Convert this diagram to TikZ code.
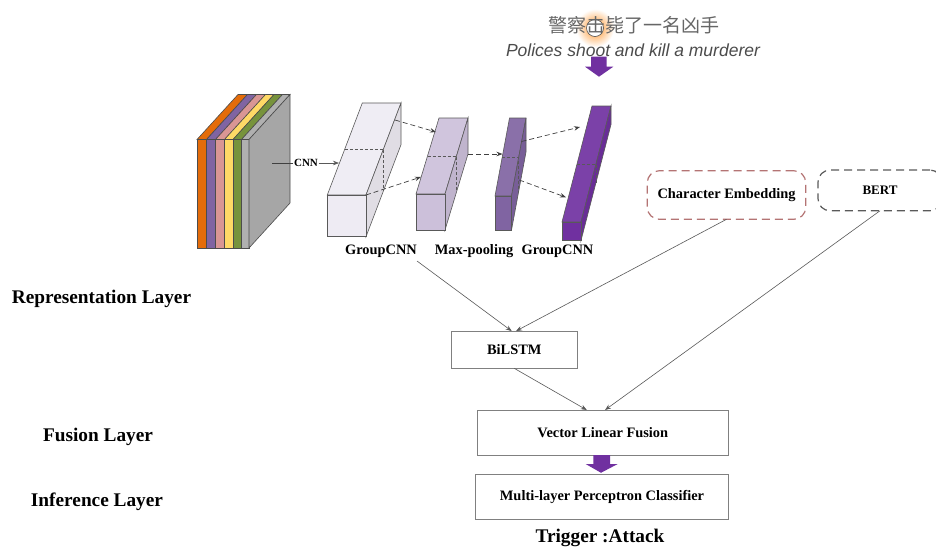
\documentclass[tikz,border=0pt]{standalone}
\usepackage{fontspec}
\setmainfont{Liberation Serif}
\newfontfamily\cjkfont{Noto Sans CJK SC}
\newfontfamily\engfont{Liberation Sans}
\usetikzlibrary{arrows.meta,calc}
\newcommand{\fsz}[1]{\fontsize{#1}{#1}\selectfont}
\definecolor{cA}{HTML}{EEEBF3}
\definecolor{cB}{HTML}{CCC0DA}
\definecolor{cC}{HTML}{8064A2}
\definecolor{cD}{HTML}{7030A0}
\definecolor{lorange}{HTML}{E46C0A}
\definecolor{lpurple}{HTML}{8064A2}
\definecolor{lpink}{HTML}{D99694}
\definecolor{lyellow}{HTML}{FFD966}
\definecolor{lgreen}{HTML}{77933C}
\definecolor{lgray}{HTML}{B0B0B0}
\definecolor{sidegray}{HTML}{A6A6A6}
\definecolor{cedash}{HTML}{B47474}
\definecolor{bertdash}{HTML}{5A5A5A}
\definecolor{edgegray}{HTML}{808080}
\definecolor{arrowpurple}{HTML}{7030A0}
\newcommand{\mycuboid}[7]{%
  \filldraw[boxedge, fill=#7!92!white] (#1,#2) -- ++(#3,0) -- ++(#5,#6) -- ++(-#3,0) -- cycle;
  \filldraw[boxedge, fill=#7!94!black] ({#1+#3},#2) -- ++(0,#4) -- ++(#5,#6) -- ++(0,-#4) -- cycle;
  \filldraw[boxedge, fill=#7] (#1,#2) rectangle ++(#3,#4);
  \draw[boxedge, dash pattern=on 3pt off 2pt] ({#1+#5/2},{#2+#6/2}) -- ++(#3,0) -- ++(0,#4);
}
\tikzset{
  boxedge/.style={draw=black!65, line width=0.6pt},
  stackedge/.style={draw=black!70, line width=0.6pt},
  dasharrow/.style={draw=black!75, line width=0.7pt, dash pattern=on 5pt off 3pt, -{Stealth[length=6pt,width=4.5pt]}},
  thinarrow/.style={draw=black!65, line width=0.6pt, -{Stealth[length=6pt,width=4.5pt]}},
  layerlab/.style={font=\fsz{19.3}\bfseries, inner sep=0pt},
  boxlab/.style={font=\fsz{14.4}\bfseries, inner sep=0pt},
  plainbox/.style={draw=edgegray, line width=0.9pt, fill=white, inner sep=0pt, outer sep=0pt, font=\fsz{14.4}\bfseries},
  cebox/.style={draw=cedash, line width=1.2pt, dash pattern=on 8pt off 5pt, rounded corners=12pt, inner sep=0pt, outer sep=0pt, font=\fsz{14.4}\bfseries},
  bertbox/.style={draw=bertdash, line width=1.2pt, dash pattern=on 8pt off 5pt, rounded corners=12pt, inner sep=0pt, outer sep=0pt, font=\fsz{13}\bfseries},
}
\begin{document}
\begin{tikzpicture}[x=1pt,y=-1pt]
\useasboundingbox (0,0) rectangle (936,550);
\fill[white] (0,0) rectangle (936,550);

% --- input sentence ---
\shade[inner color=orange!85, outer color=white] (595,28) circle (19);
\filldraw[fill=white, draw=black!70, line width=0.6pt] (595,28) circle (8.5);
\node[font=\cjkfont\fsz{19}, text=black!60, inner sep=0pt] (zh) at (633.5,25) {警察击毙了一名凶手};
\node[font=\engfont\itshape\fsz{17.5}, text=black!70, inner sep=0pt] (en) at (633,50) {Polices shoot and kill a murderer};
\fill[arrowpurple] (591,56.7) -- (606.7,56.7) -- (606.7,66.7) -- (613.3,66.7) -- (599,76.7) -- (585,66.7) -- (591,66.7) -- cycle;

% --- stack of embedding layers ---
\foreach \xa/\xb/\col in {197/206.5/lorange, 206.5/215.5/lpurple, 215.5/224.5/lpink, 224.5/233/lyellow, 233/241.5/lgreen, 241.5/249/lgray}{
  \filldraw[stackedge, fill=\col] (\xa,139.5) -- (\xb,139.5) -- ++(41,-45) -- ({\xa+41},94.5) -- cycle;
  \filldraw[stackedge, fill=\col] (\xa,139.5) rectangle (\xb,248);
}
\filldraw[stackedge, fill=sidegray] (249,139.5) -- (249,248) -- ++(41,-45) -- (290,94.5) -- cycle;

% CNN arrow
\coordinate (cnnstart) at (272,163);
\coordinate (cnnend) at (339,163);
\node[font=\fsz{11}\bfseries, inner sep=0.5pt] (cnn) at (306,163) {CNN};
\draw[draw=black!75, line width=0.6pt] (cnnstart) -- (cnn.west);
\draw[thinarrow] (cnn.east) -- (cnnend);

% --- cuboids ---
\mycuboid{327.3}{195}{38.7}{41.7}{35}{-92}{cA}
\mycuboid{416}{194}{29}{36}{23}{-76}{cB}
\mycuboid{495}{196}{16.5}{34}{14.5}{-78}{cC}
\mycuboid{562}{222}{19}{18.5}{30}{-116}{cD}

% dashed connections
\coordinate (a1s) at (395,120);  \coordinate (a1e) at (436,132);
\coordinate (a2s) at (366,195);  \coordinate (a2e) at (421,177);
\coordinate (a3s) at (468,154);  \coordinate (a3e) at (502.5,154);
\coordinate (a4s) at (521.5,141.5); \coordinate (a4e) at (580,127);
\coordinate (a5s) at (519.3,180); \coordinate (a5e) at (566,197.3);
\draw[dasharrow] (a1s) -- (a1e);
\draw[dasharrow] (a2s) -- (a2e);
\draw[dasharrow] (a3s) -- (a3e);
\draw[dasharrow] (a4s) -- (a4e);
\draw[dasharrow] (a5s) -- (a5e);

% labels under cuboids
\node[boxlab] (gc1) at (381,251) {GroupCNN};
\node[boxlab] (mp) at (474,251) {Max-pooling};
\node[boxlab] (gc2) at (557.5,251) {GroupCNN};

% --- embedding boxes ---
\node[cebox, minimum width=158.4pt, minimum height=48.6pt] (ce) at (726.5,195) {Character Embedding};
\node[bertbox, minimum width=124pt, minimum height=40.7pt] (bert) at (880,190.4) {BERT};

% --- main boxes ---
\node[plainbox, minimum width=126.7pt, minimum height=37.3pt] (bilstm) at (514.3,349.7) {BiLSTM};
\node[plainbox, minimum width=251pt, minimum height=45pt] (vlf) at (602.8,432.5) {Vector Linear Fusion};
\node[plainbox, minimum width=252.6pt, minimum height=45.3pt] (mlp) at (602,496.7) {Multi-layer Perceptron Classifier};
\node[font=\fsz{19.3}\bfseries, inner sep=0pt] (trig) at (600,538.3) {Trigger :Attack};

% --- connectors ---
\coordinate (g1s) at (417,261);
\draw[thinarrow] (g1s) -- ($(bilstm.north)+(-2.6,0)$);
\draw[thinarrow] (ce.south) -- ($(bilstm.north)+(1.7,0)$);
\draw[thinarrow] (bilstm.south) -- ($(vlf.north)+(-16,0)$);
\draw[thinarrow] (bert.south) -- ($(vlf.north)+(2.2,0)$);
\fill[arrowpurple] ($(vlf.south)+(-9.5,0)$) -- ++(16.7,0) -- ++(0,9) -- ++(7.7,0) -- ($(mlp.north)+(-1,-1.3)$) -- ($(vlf.south)+(-17.1,9)$) -- ++(7.6,0) -- cycle;

% --- layer labels ---
\node[layerlab] (rep) at (101.5,299.3) {Representation Layer};
\node[layerlab] (fus) at (98,436.7) {Fusion Layer};
\node[layerlab] (inf) at (97,501.7) {Inference Layer};
\end{tikzpicture}
\end{document}
